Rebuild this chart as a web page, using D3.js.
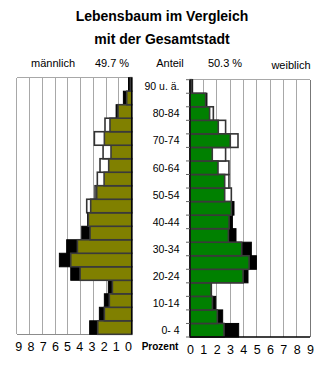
<!DOCTYPE html>
<html>
<head>
<meta charset="utf-8">
<script src="https://cdn.jsdelivr.net/npm/d3@7"></script>
<style>
  body { margin: 0; background: #fff; }
  svg { font-family: "Liberation Sans", Arial, sans-serif; }
</style>
</head>
<body>
<svg id="svgPyramid"></svg>
<script>

/// DATA ////////////////////////////////////////////////////////////////////////////////

var ages = ["0- 4", "5-9", "10-14", "15-19", "20-24", "25-29", "30-34", "35-39", "40-44", "45-49",
            "50-54", "55-59", "60-64", "65-69", "70-74", "75-79", "80-84", "85-89", "90 u. ä."];

// share of the district (percent), youngest first
var maleShare   = [2.66, 2.14, 1.75, 1.51, 4.04, 4.77, 4.25, 3.26, 3.39, 3.21,
                   2.74, 2.16, 1.80, 1.62, 2.14, 1.70, 1.07, 0.39, 0.10];
var femaleShare = [2.55, 2.05, 1.68, 1.58, 3.98, 4.43, 3.88, 2.88, 2.93, 3.10,
                   2.60, 2.60, 2.10, 1.67, 3.02, 2.12, 1.47, 1.17, 0.12];

// Gesamtstadt, drawn as filled bars (dark) or as open boxes (light)
var maleCityDark   = [3.29, 2.53, 2.14, 1.83, 4.77, 5.66, 5.09, 3.91, 3.45, null,
                      null, null, null, null, null, null, 1.22, 0.65, 0.25];
var maleCityLight  = [null, null, null, null, null, null, null, null, null, 3.52,
                      2.87, 2.69, 2.48, 2.24, 2.92, 2.09, null, null, null];
var femaleCityDark = [3.65, 2.45, 1.93, 1.62, 4.35, 4.98, 4.60, 3.45, 3.18, 3.30,
                      null, null, null, null, null, null, null, 1.27, 0.20];
var femaleCityLight= [null, null, null, null, null, null, null, null, null, null,
                      3.10, 2.92, 2.92, 2.67, 3.60, 2.67, 1.75, null, null];

var percentTicks = [0, 1, 2, 3, 4, 5, 6, 7, 8, 9];
var titleLines = ["Lebensbaum im Vergleich", "mit der Gesamtstadt"];
var headerLabels = ["männlich", "49.7 %", "Anteil", "50.3 %", "weiblich"];

/// SETUP ///////////////////////////////////////////////////////////////////////////////

var WIDTH = 324, HEIGHT = 369;

var svg = d3.select('#svgPyramid')
    .attr('width', WIDTH)
    .attr('height', HEIGHT);

var rows = ages.map(function (a, i) {
    return { age: a, i: i,
             male: maleShare[i], female: femaleShare[i],
             maleDark: maleCityDark[i], maleLight: maleCityLight[i],
             femaleDark: femaleCityDark[i], femaleLight: femaleCityLight[i] };
});

var topDown = ages.slice().reverse();

// left (male) panel
var male_x = d3.scaleLinear().domain([0, 9]).range([131.7, 16.7]);
var male_y = d3.scaleBand().domain(topDown).range([77.7, 334.3]);
var male_tickX = d3.scaleLinear().domain([0, 9]).range([128, 18.3]);

// right (female) panel
var female_x = d3.scaleLinear().domain([0, 9]).range([190, 310]);
var female_y = d3.scaleBand().domain(topDown).range([79.7, 337]);

/////////////////////////////////////////////////////////////////////////////////////////

function drawTitle() {
    svg.selectAll('text.title')
        .data(titleLines)
        .enter()
        .append('text')
            .attr('class', 'title')
            .attr('x', 162)
            .attr('y', function (d, i) { return 21 + i * 22.5 })
            .attr('text-anchor', 'middle')
            .style('font-size', '14px')
            .style('font-weight', 'bold')
            .text(function (d) { return d })

    var hx = [53, 112, 170, 225, 291];
    svg.selectAll('text.header')
        .data(headerLabels)
        .enter()
        .append('text')
            .attr('class', 'header')
            .attr('x', function (d, i) { return hx[i] })
            .attr('y', function (d, i) { return i == 4 ? 68.5 : 66.5 })
            .attr('text-anchor', 'middle')
            .style('font-size', '11px')
            .text(function (d) { return d })
}

function drawPanel(g, x, y, key, fill, rightSide) {
    var x0 = x(0);
    var xEnd = x(9);
    var yTop = y.range()[0], yBot = y.range()[1];

    // gridlines
    g.selectAll('line.grid')
        .data(percentTicks.slice(1))
        .enter()
        .append('line')
            .attr('x1', function (d) { return x(d) })
            .attr('x2', function (d) { return x(d) })
            .attr('y1', yTop)
            .attr('y2', yBot)
            .attr('stroke', d3.color('#a8a8a8'))
            .attr('stroke-width', 1)
            .attr('shape-rendering', 'crispEdges')

    // frame
    g.append('line')
        .attr('x1', x0).attr('x2', xEnd).attr('y1', yTop).attr('y2', yTop)
        .attr('stroke', '#a8a8a8').attr('shape-rendering', 'crispEdges')
    if (!rightSide) {
        g.append('line')
            .attr('x1', x0).attr('x2', xEnd).attr('y1', yBot).attr('y2', yBot)
            .attr('stroke', '#8c8c8c').attr('shape-rendering', 'crispEdges')
    }

    function barX(v) { return Math.min(x0, x(v)) }
    function barW(v) { return Math.abs(x(v) - x0) }

    // Gesamtstadt as open boxes
    g.selectAll('rect.cityLight')
        .data(rows.filter(function (d) { return d[key + 'Light'] != null }))
        .enter()
        .append('rect')
            .attr('x', function (d) { return barX(d[key + 'Light']) })
            .attr('y', function (d) { return y(d.age) })
            .attr('width', function (d) { return barW(d[key + 'Light']) })
            .attr('height', y.bandwidth())
            .attr('fill', 'white')
            .attr('stroke', '#333')
            .attr('stroke-width', 1.6)

    // Gesamtstadt as filled bars
    g.selectAll('rect.cityDark')
        .data(rows.filter(function (d) { return d[key + 'Dark'] != null }))
        .enter()
        .append('rect')
            .attr('x', function (d) { return barX(d[key + 'Dark']) })
            .attr('y', function (d) { return y(d.age) })
            .attr('width', function (d) { return barW(d[key + 'Dark']) })
            .attr('height', y.bandwidth())
            .attr('fill', 'black')
            .attr('stroke', 'black')
            .attr('stroke-width', 1)

    // district bars
    g.selectAll('rect.share')
        .data(rows)
        .enter()
        .append('rect')
            .attr('x', function (d) { return barX(d[key]) })
            .attr('y', function (d) { return y(d.age) })
            .attr('width', function (d) { return barW(d[key]) })
            .attr('height', y.bandwidth())
            .attr('fill', fill)
            .attr('stroke', '#3a3a3a')
            .attr('stroke-width', 1.6)

    // zero axis
    g.append('line')
        .attr('x1', x0).attr('x2', x0).attr('y1', yTop).attr('y2', yBot)
        .attr('stroke', 'black').attr('stroke-width', 1.2)
}

function drawAxes() {
    // right panel: outer frame, y ticks and bottom axis
    var fg = svg.append('g');
    fg.append('line')
        .attr('x1', female_x(9)).attr('x2', female_x(9))
        .attr('y1', female_y.range()[0]).attr('y2', female_y.range()[1])
        .attr('stroke', '#777').attr('shape-rendering', 'crispEdges')

    var bounds = topDown.map(function (a) { return female_y(a) }).concat([female_y.range()[1]]);
    fg.selectAll('line.ytick')
        .data(bounds)
        .enter()
        .append('line')
            .attr('x1', female_x(0) - 4).attr('x2', female_x(0))
            .attr('y1', function (d) { return d }).attr('y2', function (d) { return d })
            .attr('stroke', '#666')

    fg.append('line')
        .attr('x1', female_x(0)).attr('x2', female_x(9))
        .attr('y1', female_y.range()[1]).attr('y2', female_y.range()[1])
        .attr('stroke', 'black').attr('stroke-width', 1.3)

    // tick labels under both panels
    var fAxis = svg.append('g')
        .attr('transform', 'translate(0,' + 345 + ')')
        .call(d3.axisBottom(female_x).tickValues(percentTicks).tickSize(0).tickPadding(0))
    var mAxis = svg.append('g')
        .attr('transform', 'translate(0,' + 342.5 + ')')
        .call(d3.axisBottom(male_tickX).tickValues(percentTicks).tickSize(0).tickPadding(0))

    svg.selectAll('.domain').remove();
    svg.selectAll('.tick text')
        .attr('fill', 'black')
        .style('font-size', '12.5px')
        .style('font-family', '"Liberation Sans", Arial, sans-serif')

    svg.append('text')
        .attr('x', 160)
        .attr('y', 350)
        .attr('text-anchor', 'middle')
        .style('font-size', '10px')
        .style('font-weight', 'bold')
        .text('Prozent')

    // age labels, every second group
    svg.selectAll('text.age')
        .data(ages.filter(function (d, i) { return i % 2 == 0 }))
        .enter()
        .append('text')
            .attr('class', 'age')
            .attr('x', 179.5)
            .attr('y', function (d) { return female_y(d) + female_y.bandwidth() / 2 })
            .attr('dy', '0.36em')
            .attr('text-anchor', 'end')
            .style('font-size', '10.5px')
            .text(function (d) { return d })
}

drawTitle();
drawPanel(svg.append('g'), male_x, male_y, 'male', '#808000', false);
drawPanel(svg.append('g'), female_x, female_y, 'female', '#008000', true);
drawAxes();

</script>
</body>
</html>
